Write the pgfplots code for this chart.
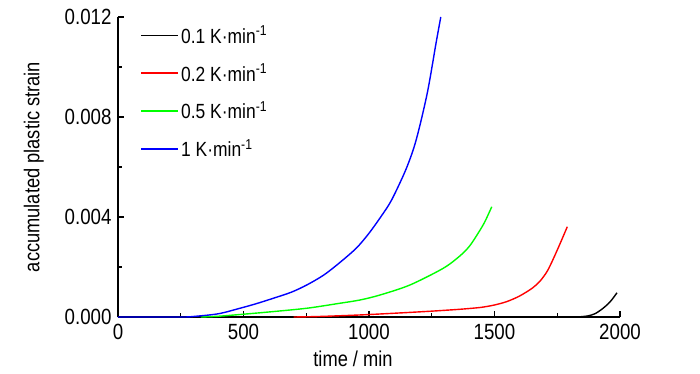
\documentclass[border=0pt]{standalone}
\usepackage{pgfplots}
\pgfplotsset{compat=1.18}
\usepackage{fontspec}
\setmainfont{Liberation Sans}[FakeStretch=0.85]
\begin{document}
\begin{tikzpicture}
\begin{axis}[
  scale only axis,
  width=502pt, height=300pt,
  xmin=0, xmax=2000, ymin=0, ymax=0.012,
  axis lines=left,
  axis line style={-, line width=1.6pt},
  tick align=inside,
  xtick={0,500,1000,1500,2000},
  ytick={0,0.004,0.008,0.012},
  minor x tick num=1,
  minor y tick num=1,
  major tick length=6pt,
  minor tick length=4pt,
  tick style={black, line width=1.2pt},
  scaled y ticks=false,
  /pgf/number format/assume math mode=true,
  /pgf/number format/1000 sep={},
  yticklabel style={/pgf/number format/fixed, /pgf/number format/fixed zerofill, /pgf/number format/precision=3, xshift=-3pt},
  ticklabel style={font=\fontsize{22}{25}\selectfont},
  xticklabel style={yshift=-4pt},
  xlabel={time / min},
  ylabel={accumulated plastic strain},
  label style={font=\fontsize{21.5}{24}\selectfont},
  xlabel style={xshift=-16pt, yshift=-4pt},
  ylabel style={yshift=14pt},
  clip=false,
  legend cell align=left,
  legend style={draw=none, fill=none, at={(rel axis cs:0.045,0.978)}, anchor=north west,
    font=\fontsize{20.5}{23}\selectfont, row sep=15pt, inner sep=0pt},
  legend image code/.code={\draw[#1] (0pt,0pt) -- (37pt,0pt);},
  every axis plot/.append style={line width=1.4pt},
]
\addplot[black, smooth] coordinates {
(1830,0) (1870,0.00004) (1900,0.00013) (1930,0.00033) (1960,0.0006) (1988,0.00097)};
\addlegendentry{0.1 K·min\textsuperscript{-1}}
\addplot[red, smooth] coordinates {
(700,0) (800,0.00002) (960,0.00008) (1100,0.00015) (1243,0.00023) (1350,0.0003)
(1400,0.00034) (1450,0.00039) (1500,0.00048) (1550,0.00062) (1600,0.00084)
(1650,0.00115) (1681,0.00143) (1710,0.00183) (1734,0.00232) (1761,0.00293) (1790,0.00361)};
\addlegendentry{0.2 K·min\textsuperscript{-1}}
\addplot[color={rgb,255:red,0;green,255;blue,0}, smooth] coordinates {
(330,0) (400,0.00003) (486,0.0001) (600,0.0002) (752,0.00035) (884,0.00055)
(964,0.00068) (1044,0.00088) (1163,0.00128) (1296,0.00195) (1363,0.00245)
(1400,0.00283) (1429,0.00326) (1460,0.00378) (1489,0.00441)};
\addlegendentry{0.5 K·min\textsuperscript{-1}}
\addplot[blue, smooth] coordinates {
(0,0) (250,0) (300,0.00002) (400,0.00013) (486,0.00035) (550,0.00053) (619,0.00075)
(690,0.00099) (752,0.00128) (820,0.00168) (884,0.00218) (950,0.00276) (1000,0.00335)
(1050,0.00405) (1090,0.00468) (1147,0.0059) (1187,0.00705) (1232,0.00895) (1267,0.01095) (1286,0.0120)};
\addlegendentry{1 K·min\textsuperscript{-1}}
\path (rel axis cs:0,0) ++(-118pt,-57pt) coordinate (bbl);
\path (rel axis cs:1,1) ++(80pt,17pt) coordinate (btr);
\end{axis}
\pgfresetboundingbox
\path (bbl) rectangle (btr);
\end{tikzpicture}
\end{document}
